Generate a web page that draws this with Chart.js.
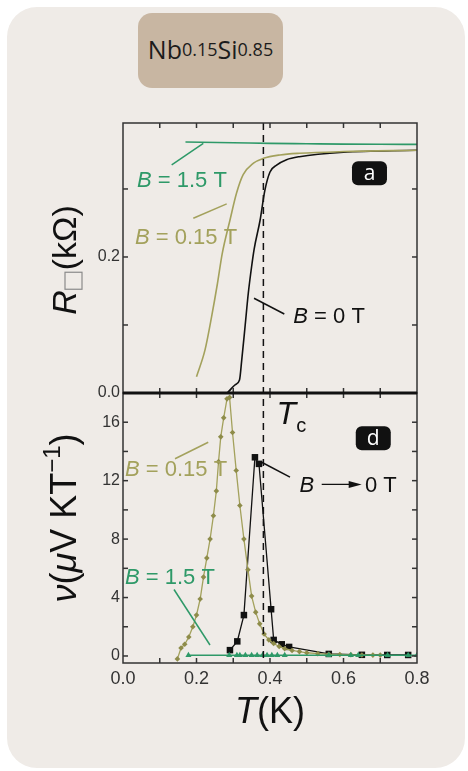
<!DOCTYPE html>
<html>
<head>
<meta charset="utf-8">
<script src="https://cdn.jsdelivr.net/npm/chart.js@4.4.1/dist/chart.umd.min.js"></script>
<style>
  html, body { margin: 0; padding: 0; background: #fff; }
  #wrap { position: relative; width: 468px; height: 771px; overflow: hidden; }
  .card { position: absolute; left: 7px; top: 7px; width: 458px; height: 761px; background: #efebe7; border-radius: 30px; }
  .tag { position: absolute; left: 138px; top: 13px; width: 145px; height: 75px; background: #c8b6a2; border-radius: 14px;
         font-family: 'Open Sans', sans-serif; font-size: 25px; color: #1c1c1c; display: flex; align-items: center; justify-content: center;
         padding-bottom: 4px; box-sizing: border-box; }
  .tag sub { font-size: 18px; vertical-align: -8px; line-height: 0; }
  canvas { position: absolute; left: 0; top: 0; }
</style>
</head>
<body>
<div id="wrap">
  <div class="card"></div>
  <div class="tag">Nb<sub>0.15</sub>Si<sub>0.85</sub></div>
  <canvas id="chart" width="468" height="771"></canvas>
</div>
<script>
// ================== Data ==================
// Upper panel: sheet resistance R (kOhm) vs T (K)
const rT_15 = [0.17, 0.30, 0.40, 0.50, 0.60, 0.70, 0.80];
const rR_15 = [0.369, 0.368, 0.367, 0.3665, 0.366, 0.3657, 0.3655];

const rT_015 = [0.200, 0.223, 0.241, 0.257, 0.270, 0.291, 0.309, 0.327, 0.355, 0.382, 0.427, 0.480, 0.600, 0.800];
const rR_015 = [0.024, 0.063, 0.112, 0.161, 0.205, 0.254, 0.294, 0.321, 0.338, 0.345, 0.350, 0.3525, 0.355, 0.357];

const rT_0 = [0.282, 0.287, 0.305, 0.317, 0.323, 0.332, 0.341, 0.350, 0.357, 0.373, 0.386, 0.400, 0.418, 0.445, 0.480, 0.600, 0.800];
const rR_0 = [0.000, 0.002, 0.012, 0.019, 0.048, 0.097, 0.147, 0.186, 0.212, 0.254, 0.298, 0.325, 0.335, 0.343, 0.3475, 0.354, 0.357];

// Lower panel: Nernst signal nu (uV/KT) vs T (K)
const nT_015 = [0.148, 0.158, 0.168, 0.179, 0.190, 0.200, 0.210, 0.219, 0.228, 0.237, 0.246, 0.254, 0.260, 0.266, 0.274, 0.283, 0.290,
                0.298, 0.308, 0.318, 0.329, 0.340, 0.350, 0.361, 0.372, 0.384, 0.397, 0.410, 0.425, 0.440, 0.460, 0.480, 0.500,
                0.530, 0.560, 0.590, 0.620, 0.650, 0.680, 0.700];
const nV_015 = [-0.2, 0.55, 0.8, 1.3, 2.0, 2.8, 3.9, 5.4, 6.7, 8.0, 9.6, 11.3, 13.3, 15.0, 16.3, 17.6, 17.7,
                15.3, 12.7, 10.3, 8.0, 5.9, 4.1, 3.0, 2.2, 1.5, 1.1, 0.85, 0.65, 0.5, 0.38, 0.3, 0.22,
                0.16, 0.12, 0.10, 0.08, 0.07, 0.06, 0.06];

const nT_0 = [0.291, 0.311, 0.329, 0.359, 0.370, 0.403, 0.410, 0.432, 0.452, 0.560, 0.650, 0.719, 0.776];
const nV_0 = [0.4, 1.0, 2.8, 13.6, 13.15, 3.2, 1.1, 0.8, 0.62, 0.14, 0.08, 0.07, 0.07];

const nT_15 = [0.178, 0.289, 0.310, 0.318, 0.333, 0.350, 0.365, 0.380, 0.392, 0.405, 0.420, 0.440, 0.560, 0.620, 0.640, 0.720, 0.776, 0.800];
const nV_15 = [0.05, 0.05, 0.05, 0.05, 0.05, 0.05, 0.05, 0.05, 0.05, 0.05, 0.05, 0.05, 0.05, 0.05, 0.05, 0.05, 0.05, 0.05];

// Critical temperature marked by the dashed line
const TC = 0.382;

// Tick positions and labels
const xTicks = [0.0, 0.1, 0.2, 0.3, 0.4, 0.5, 0.6, 0.7, 0.8];
const xTickLabels = ['0.0', '', '0.2', '', '0.4', '', '0.6', '', '0.8'];
const rTicks = [0.0, 0.1, 0.2, 0.3];
const rTickLabels = ['0.0', '', '0.2', ''];
const nTicks = [0, 2, 4, 6, 8, 10, 12, 14, 16];
const nTickLabels = ['0', '', '4', '', '8', '', '12', '', '16'];

// ================== Helpers ==================
const GREEN = '#2e9968';
const OLIVE = '#a3a15c';
const OLIVE_DARK = '#8e8c4a';
const INK = '#111';
const AXIS = '#333';
const SANS = '"Liberation Sans", Arial, sans-serif';

const pts = (xs, ys) => xs.map((x, i) => ({ x, y: ys[i] }));

// replace the generated ticks by a fixed list
const fixedTicks = values => scale => { scale.ticks = values.map(value => ({ value })); };
const labelFor = (values, labels) => v => {
  const i = values.findIndex(t => Math.abs(t - v) < 1e-6);
  return i < 0 ? '' : labels[i];
};

function richWidth(ctx, parts) {
  return parts.reduce((w, p) => {
    if (p.box) return w + p.box.w;
    ctx.font = p.font;
    return w + ctx.measureText(p.text).width;
  }, 0);
}

function drawRich(ctx, x, y, parts, align) {
  let cx = align === 'center' ? x - richWidth(ctx, parts) / 2 : x;
  parts.forEach(p => {
    if (p.box) {
      ctx.save();
      ctx.strokeStyle = '#8a8a8a';
      ctx.lineWidth = 1.2;
      ctx.strokeRect(cx + 1, y + p.box.dy - p.box.h, p.box.w - 3, p.box.h);
      ctx.restore();
      cx += p.box.w;
      return;
    }
    ctx.font = p.font;
    ctx.fillText(p.text, cx, y + (p.dy || 0));
    cx += ctx.measureText(p.text).width;
  });
}

function seg(ctx, x1, y1, x2, y2) {
  ctx.beginPath();
  ctx.moveTo(x1, y1);
  ctx.lineTo(x2, y2);
  ctx.stroke();
}

// "B = ... T" label with italic B
function bLabel(ctx, x, y, rest, color) {
  ctx.fillStyle = color;
  drawRich(ctx, x, y, [
    { text: 'B', font: `italic 22px ${SANS}` },
    { text: rest, font: `22px ${SANS}` }
  ]);
}

function letterBox(ctx, cx, cy, letter) {
  const w = 35, h = 24, r = 6;
  ctx.fillStyle = INK;
  ctx.beginPath();
  ctx.roundRect(cx - w / 2, cy - h / 2, w, h, r);
  ctx.fill();
  ctx.fillStyle = '#fff';
  ctx.font = '21px "Open Sans", sans-serif';
  ctx.textAlign = 'center';
  ctx.textBaseline = 'middle';
  ctx.fillText(letter, cx, cy + 1);
  ctx.textAlign = 'left';
  ctx.textBaseline = 'alphabetic';
}

// ================== Plugins ==================
// Frame around both panels, inward ticks, dashed Tc line
const FramePlugin = {
  id: 'frame',
  afterDatasetsDraw(chart) {
    const { ctx, scales: { x, yR, yV } } = chart;
    ctx.save();

    // dashed line at Tc through both panels
    const xc = x.getPixelForValue(TC);
    ctx.strokeStyle = INK;
    ctx.lineWidth = 1.5;
    ctx.setLineDash([7, 5]);
    seg(ctx, xc, Math.min(yR.top, yV.top), xc, Math.max(yR.bottom, yV.bottom));
    ctx.setLineDash([]);

    // panel frames
    ctx.strokeStyle = AXIS;
    ctx.lineWidth = 1.5;
    [yR, yV].forEach(y => ctx.strokeRect(x.left, y.top, x.right - x.left, y.bottom - y.top));

    // inward x ticks on top and bottom of each panel
    const tl = 5;
    x.ticks.forEach(t => {
      if (t.value <= x.min || t.value >= x.max) return;
      const px = x.getPixelForValue(t.value);
      [yR, yV].forEach(y => {
        seg(ctx, px, y.top, px, y.top + tl);
        seg(ctx, px, y.bottom, px, y.bottom - tl);
      });
    });

    // inward y ticks on left and right
    [yR, yV].forEach(s => s.ticks.forEach(t => {
      if (t.value <= s.min + 1e-6) return;
      const py = s.getPixelForValue(t.value);
      seg(ctx, x.left, py, x.left + tl, py);
      seg(ctx, x.right, py, x.right - tl, py);
    }));

    // heavy line between the panels (R = 0 baseline)
    ctx.strokeStyle = INK;
    ctx.lineWidth = 3;
    seg(ctx, x.left, yR.bottom, x.right, yR.bottom);
    ctx.restore();
  }
};

// Text labels, leader lines and axis titles
const LabelPlugin = {
  id: 'labels',
  afterDraw(chart) {
    const { ctx, scales: { x, yR, yV } } = chart;
    const P = (t, v, s) => [x.getPixelForValue(t), s.getPixelForValue(v)];
    ctx.save();
    ctx.lineWidth = 1.5;

    // --- upper panel ---
    let a, b;
    ctx.strokeStyle = GREEN;
    a = P(0.1325, 0.3353, yR); b = P(0.2185, 0.3672, yR); seg(ctx, a[0], a[1], b[0], b[1]);
    a = P(0.038, 0.303, yR); bLabel(ctx, a[0], a[1], ' = 1.5 T', GREEN);

    ctx.strokeStyle = OLIVE;
    a = P(0.1913, 0.2569, yR); b = P(0.2822, 0.278, yR); seg(ctx, a[0], a[1], b[0], b[1]);
    a = P(0.0327, 0.219, yR); bLabel(ctx, a[0], a[1], ' = 0.15 T', OLIVE);

    ctx.strokeStyle = INK;
    a = P(0.3565, 0.1393, yR); b = P(0.4389, 0.1162, yR); seg(ctx, a[0], a[1], b[0], b[1]);
    a = P(0.4634, 0.1025, yR); bLabel(ctx, a[0], a[1], ' = 0 T', INK);

    a = P(0.6707, 0.323, yR); letterBox(ctx, a[0], a[1], 'a');

    // --- lower panel ---
    a = P(0.418, 15.9, yV);
    ctx.fillStyle = INK;
    drawRich(ctx, a[0], a[1], [
      { text: 'T', font: `italic 32px ${SANS}` },
      { text: 'c', font: `20px ${SANS}`, dy: 8 }
    ]);
    a = P(0.681, 14.9, yV); letterBox(ctx, a[0], a[1], 'd');

    ctx.strokeStyle = OLIVE;
    a = P(0.1415, 13.5, yV); b = P(0.232, 14.63, yV); seg(ctx, a[0], a[1], b[0], b[1]);
    a = P(0.0054, 12.35, yV); bLabel(ctx, a[0], a[1], ' = 0.15 T', OLIVE);

    ctx.strokeStyle = INK;
    a = P(0.3774, 13.26, yV); b = P(0.4544, 12.24, yV); seg(ctx, a[0], a[1], b[0], b[1]);
    a = P(0.48, 11.2, yV); bLabel(ctx, a[0], a[1], '', INK);
    // arrow B -> 0
    a = P(0.5407, 11.74, yV); b = P(0.6495, 11.74, yV);
    ctx.lineWidth = 1.2;
    seg(ctx, a[0], a[1], b[0] - 8, b[1]);
    ctx.fillStyle = INK;
    ctx.beginPath();
    ctx.moveTo(b[0], b[1]);
    ctx.lineTo(b[0] - 13, b[1] - 3.5);
    ctx.lineTo(b[0] - 13, b[1] + 3.5);
    ctx.closePath();
    ctx.fill();
    ctx.lineWidth = 1.5;
    a = P(0.6585, 11.2, yV);
    ctx.font = `22px ${SANS}`;
    ctx.fillText('0 T', a[0], a[1]);

    ctx.strokeStyle = GREEN;
    a = P(0.1388, 4.55, yV); b = P(0.2367, 0.75, yV); seg(ctx, a[0], a[1], b[0], b[1]);
    a = P(0.0054, 4.96, yV); bLabel(ctx, a[0], a[1], ' = 1.5 T', GREEN);

    // --- axis titles ---
    ctx.fillStyle = INK;
    drawRich(ctx, (x.left + x.right) / 2, 723, [
      { text: 'T', font: `italic 36px ${SANS}` },
      { text: '(K)', font: `36px ${SANS}` }
    ], 'center');

    ctx.save();
    ctx.translate(76, (yR.top + yR.bottom) / 2 + 2);
    ctx.rotate(-Math.PI / 2);
    drawRich(ctx, 0, 0, [
      { text: 'R', font: `italic 34px ${SANS}` },
      { box: { w: 20, h: 17, dy: 6 } },
      { text: '(kΩ)', font: `34px ${SANS}` }
    ], 'center');
    ctx.restore();

    ctx.save();
    ctx.translate(76, (yV.top + yV.bottom) / 2 - 10);
    ctx.rotate(-Math.PI / 2);
    drawRich(ctx, 0, 0, [
      { text: 'ν', font: `italic 36px ${SANS}` },
      { text: '(', font: `36px ${SANS}` },
      { text: 'μ', font: `italic 36px ${SANS}` },
      { text: 'V KT', font: `36px ${SANS}` },
      { text: '−1', font: `24px ${SANS}`, dy: -16 },
      { text: ')', font: `36px ${SANS}` }
    ], 'center');
    ctx.restore();

    ctx.restore();
  }
};

// ================== Chart ==================
(function initChart() {
  const ctx = document.getElementById('chart');
  const tickFont = { family: SANS, size: 16 };

  new Chart(ctx, {
    type: 'line',
    plugins: [FramePlugin, LabelPlugin],
    data: {
      datasets: [
        { data: pts(rT_15, rR_15), yAxisID: 'yR', borderColor: GREEN, borderWidth: 1.6, pointRadius: 0, cubicInterpolationMode: 'monotone' },
        { data: pts(rT_015, rR_015), yAxisID: 'yR', borderColor: OLIVE, borderWidth: 1.6, pointRadius: 0, cubicInterpolationMode: 'monotone' },
        { data: pts(rT_0, rR_0), yAxisID: 'yR', borderColor: INK, borderWidth: 1.6, pointRadius: 0, cubicInterpolationMode: 'monotone' },
        { data: pts(nT_15, nV_15), yAxisID: 'yV', borderColor: GREEN, borderWidth: 1.3,
          pointStyle: 'triangle', pointRadius: 3.5, pointBackgroundColor: GREEN, pointBorderColor: GREEN, pointBorderWidth: 0 },
        { data: pts(nT_015, nV_015), yAxisID: 'yV', borderColor: OLIVE, borderWidth: 1.3,
          pointStyle: 'rectRot', pointRadius: 2.8, pointBackgroundColor: OLIVE_DARK, pointBorderColor: OLIVE_DARK, pointBorderWidth: 0 },
        { data: pts(nT_0, nV_0), yAxisID: 'yV', borderColor: INK, borderWidth: 1.3,
          pointStyle: 'rect', pointRadius: 4.6, pointBackgroundColor: INK, pointBorderColor: INK, pointBorderWidth: 0 }
      ]
    },
    options: {
      responsive: false,
      animation: false,
      devicePixelRatio: 1,
      layout: { padding: { left: 63, right: 51, top: 123, bottom: 68 } },
      plugins: { legend: { display: false }, tooltip: { enabled: false } },
      scales: {
        x: {
          type: 'linear', position: 'bottom', min: 0, max: 0.8,
          afterFit: s => { s.height = 40; },
          afterBuildTicks: fixedTicks(xTicks),
          grid: { display: false, drawTicks: false },
          border: { display: false },
          ticks: { padding: 5, color: AXIS, font: { family: SANS, size: 18 }, autoSkip: false, maxRotation: 0,
                   callback: labelFor(xTicks, xTickLabels) }
        },
        // the later-listed stacked scale sits on top, so the nu axis comes first
        yV: {
          type: 'linear', position: 'left', stack: 'panels', stackWeight: 1, min: -0.48, max: 18,
          afterFit: s => { s.width = 60; },
          afterBuildTicks: fixedTicks(nTicks),
          grid: { display: false, drawTicks: false },
          border: { display: false },
          ticks: { padding: 3, color: AXIS, font: tickFont, autoSkip: false,
                   callback: labelFor(nTicks, nTickLabels) }
        },
        yR: {
          type: 'linear', position: 'left', stack: 'panels', stackWeight: 1, min: 0, max: 0.397,
          afterFit: s => { s.width = 60; },
          afterBuildTicks: fixedTicks(rTicks),
          grid: { display: false, drawTicks: false },
          border: { display: false },
          ticks: { padding: 3, color: AXIS, font: tickFont, autoSkip: false,
                   callback: labelFor(rTicks, rTickLabels) }
        }
      }
    }
  });
})();
</script>
</body>
</html>
